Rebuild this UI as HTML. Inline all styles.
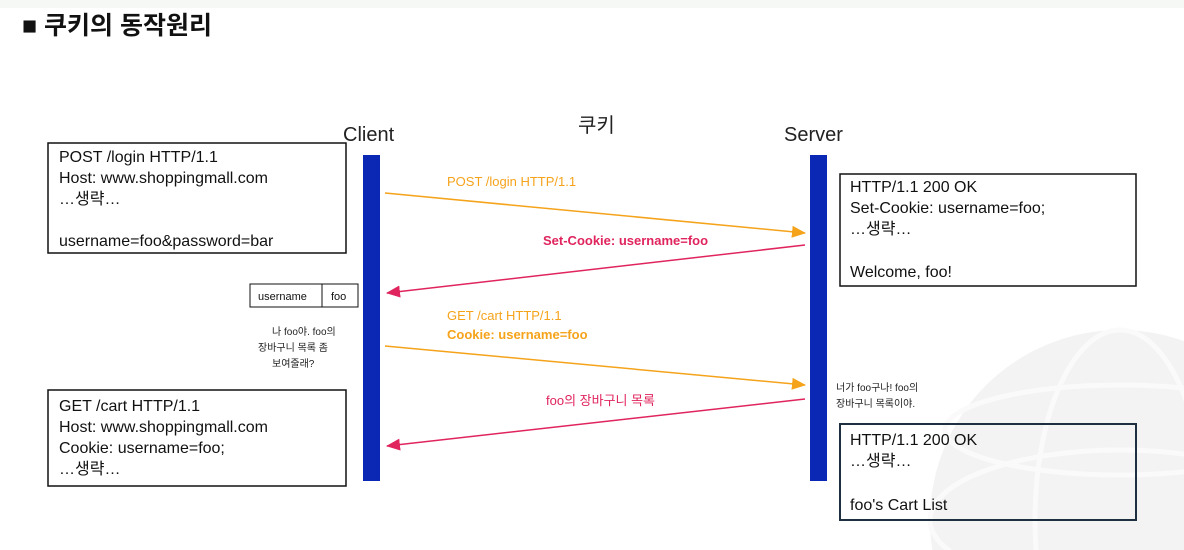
<!DOCTYPE html>
<html><head><meta charset="utf-8"><style>
html,body{margin:0;width:1184px;height:550px;overflow:hidden;background:#fff;}
svg{display:block;}
svg text{font-family:"Liberation Sans","Noto Sans CJK KR",sans-serif;}
</style></head><body>
<svg width="1184" height="550" viewBox="0 0 1184 550" xmlns="http://www.w3.org/2000/svg">
<defs>
<clipPath id="cl"><rect x="0" y="0" width="1184" height="550"/></clipPath>
<marker id="ao" markerWidth="14" markerHeight="12" refX="13" refY="6" orient="auto" markerUnits="userSpaceOnUse"><path d="M0,0 L14,6 L0,12z" fill="#f5a31a"/></marker>
<marker id="ar" markerWidth="14" markerHeight="12" refX="13" refY="6" orient="auto" markerUnits="userSpaceOnUse"><path d="M0,0 L14,6 L0,12z" fill="#e0245e"/></marker>
</defs>
<g clip-path="url(#cl)">
<circle cx="1120" cy="520" r="190" fill="#f3f3f3"/>
<g fill="none" stroke="#fafafa" stroke-width="5">
<ellipse cx="1120" cy="520" rx="85" ry="190"/>
<ellipse cx="1120" cy="520" rx="190" ry="70"/>
<ellipse cx="1120" cy="430" rx="175" ry="45"/>
</g>
</g>
<rect x="0" y="0" width="1184" height="8" fill="#f6f8f6"/>
<text x="22" y="34" font-size="25" font-weight="bold" fill="#111">■ 쿠키의 동작원리</text>
<text x="343" y="141" font-size="20" fill="#222">Client</text>
<text x="784" y="141" font-size="20" fill="#222">Server</text>
<text x="578" y="132" font-size="20" fill="#222">쿠키</text>
<rect x="363" y="155" width="17" height="326" fill="#0a28b4"/>
<rect x="810" y="155" width="17" height="326" fill="#0a28b4"/>
<g fill="#fff" stroke="#111" stroke-width="1.5">
<rect x="48" y="143" width="298" height="110"/>
<rect x="840" y="174" width="296" height="112"/>
<rect x="48" y="390" width="298" height="96"/>
<rect x="840" y="424" width="296" height="96" stroke="#1e3040" stroke-width="2" fill="none"/>
<rect x="250" y="284" width="72" height="23" stroke-width="1"/>
<rect x="322" y="284" width="36" height="23" stroke-width="1"/>
</g>
<g font-size="16" fill="#111">
<text x="59" y="162">POST /login HTTP/1.1</text>
<text x="59" y="183">Host: www.shoppingmall.com</text>
<text x="59" y="204">…생략…</text>
<text x="59" y="246">username=foo&amp;password=bar</text>
<text x="850" y="192">HTTP/1.1 200 OK</text>
<text x="850" y="213">Set-Cookie: username=foo;</text>
<text x="850" y="234">…생략…</text>
<text x="850" y="277">Welcome, foo!</text>
<text x="59" y="411">GET /cart HTTP/1.1</text>
<text x="59" y="432">Host: www.shoppingmall.com</text>
<text x="59" y="453">Cookie: username=foo;</text>
<text x="59" y="474">…생략…</text>
<text x="850" y="445">HTTP/1.1 200 OK</text>
<text x="850" y="466">…생략…</text>
<text x="850" y="510">foo's Cart List</text>
</g>
<text x="258" y="300" font-size="11" fill="#111">username</text>
<text x="331" y="300" font-size="11" fill="#111">foo</text>
<g font-size="10" fill="#222">
<text x="272" y="335">나 foo야. foo의</text>
<text x="258" y="351">장바구니 목록 좀</text>
<text x="272" y="367">보여줄래?</text>
<text x="836" y="391">너가 foo구나! foo의</text>
<text x="836" y="407">장바구니 목록이야.</text>
</g>
<text x="447" y="186" font-size="13" fill="#f5a31a">POST /login HTTP/1.1</text>
<text x="543" y="245" font-size="13" font-weight="bold" fill="#e0245e">Set-Cookie: username=foo</text>
<text x="447" y="320" font-size="13" fill="#f5a31a">GET /cart HTTP/1.1</text>
<text x="447" y="339" font-size="13" font-weight="bold" fill="#f5a31a">Cookie: username=foo</text>
<text x="546" y="405" font-size="13" fill="#e0245e">foo의 장바구니 목록</text>
<line x1="385" y1="193" x2="805" y2="233" stroke="#f5a31a" stroke-width="1.5" marker-end="url(#ao)"/>
<line x1="805" y1="245" x2="387" y2="293" stroke="#e0245e" stroke-width="1.5" marker-end="url(#ar)"/>
<line x1="385" y1="346" x2="805" y2="385" stroke="#f5a31a" stroke-width="1.5" marker-end="url(#ao)"/>
<line x1="805" y1="399" x2="387" y2="446" stroke="#e0245e" stroke-width="1.5" marker-end="url(#ar)"/>
</svg>
</body></html>
